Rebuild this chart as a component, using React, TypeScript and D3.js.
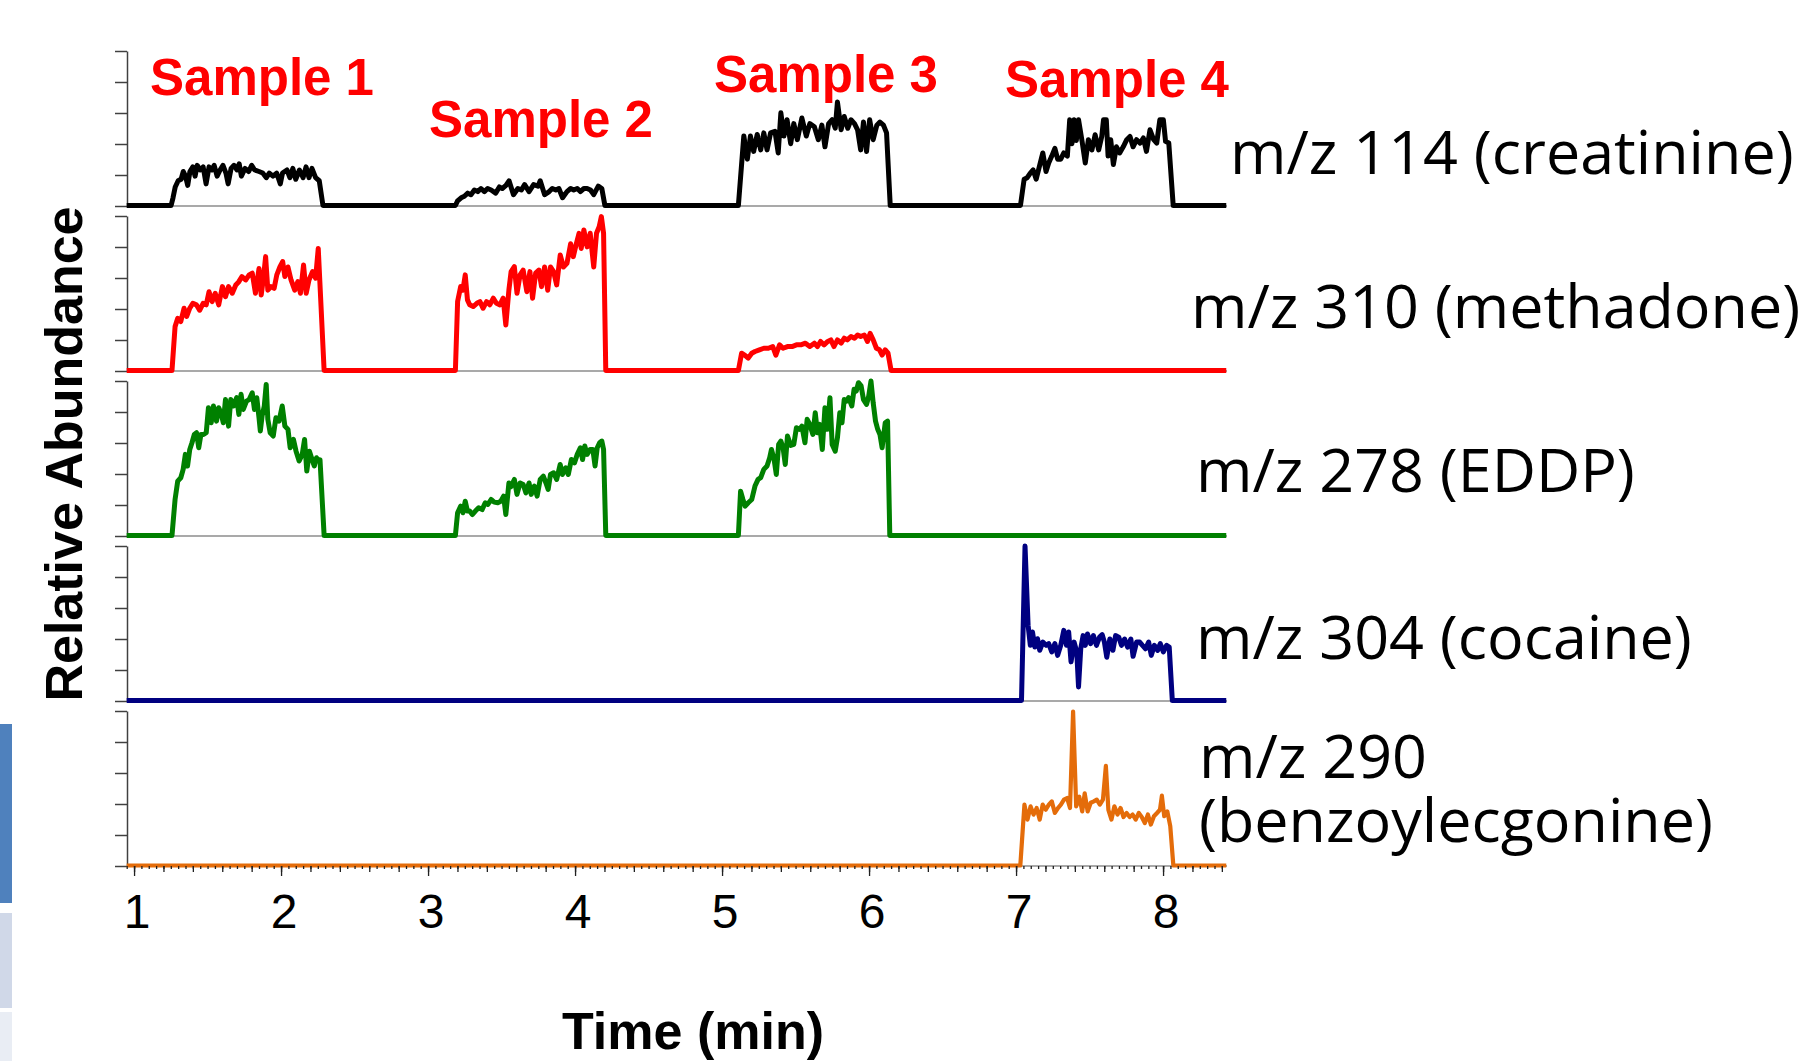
import React, { useEffect, useRef } from "react";
import * as d3 from "d3";

type Pt = [number, number];

// time (min), relative abundance (%)
const creatinine: Pt[] = [
  [0.95, 0], [1.252, 0], [1.265, 5], [1.28, 12], [1.3, 16], [1.32, 17], [1.335, 22], [1.35, 19], [1.365, 13],
  [1.38, 22], [1.4, 25], [1.415, 19], [1.43, 26], [1.45, 23], [1.47, 25], [1.49, 14], [1.51, 25], [1.53, 23],
  [1.545, 26], [1.565, 19], [1.585, 23], [1.605, 26], [1.625, 21], [1.64, 14], [1.66, 24], [1.68, 26], [1.7, 23],
  [1.715, 27], [1.73, 19], [1.755, 24], [1.78, 22], [1.8, 26], [1.82, 23], [1.85, 22], [1.875, 21], [1.9, 18],
  [1.92, 21], [1.945, 19], [1.97, 21], [1.995, 14], [2.01, 21], [2.04, 23], [2.06, 18], [2.08, 24], [2.1, 17],
  [2.125, 23], [2.15, 18], [2.17, 25], [2.19, 18], [2.21, 24], [2.235, 18], [2.26, 16], [2.285, 0],
  [3.186, 0], [3.201, 3], [3.225, 5], [3.247, 6], [3.27, 8], [3.292, 7], [3.315, 10], [3.338, 9], [3.36, 11],
  [3.383, 9], [3.405, 11], [3.429, 10], [3.46, 8], [3.485, 12], [3.505, 11], [3.53, 13], [3.551, 16], [3.581, 7],
  [3.611, 11], [3.635, 10], [3.657, 13.5], [3.687, 9], [3.718, 13.5], [3.748, 12.5], [3.763, 16], [3.793, 7],
  [3.824, 9], [3.845, 11], [3.869, 10], [3.89, 11], [3.915, 5], [3.945, 9], [3.97, 11], [3.991, 10], [4.015, 11],
  [4.036, 9], [4.06, 11], [4.082, 11], [4.105, 10], [4.127, 7], [4.158, 12.5], [4.182, 11], [4.203, 0],
  [5.111, 0], [5.148, 45], [5.172, 30], [5.193, 45], [5.215, 35], [5.239, 46], [5.263, 36], [5.284, 47],
  [5.306, 36], [5.33, 47], [5.36, 48], [5.382, 34], [5.4, 60], [5.421, 45], [5.442, 55.5], [5.467, 40],
  [5.488, 53], [5.512, 42.6], [5.543, 56.6], [5.573, 45], [5.597, 53], [5.628, 51], [5.655, 42.6], [5.679, 52],
  [5.7, 38], [5.725, 53], [5.749, 55.5], [5.77, 50], [5.785, 67], [5.81, 49], [5.831, 57.6], [5.855, 50],
  [5.877, 55.5], [5.901, 53], [5.922, 49], [5.943, 36], [5.962, 54], [5.983, 35], [6.004, 55.5], [6.028, 42.6],
  [6.053, 52], [6.074, 54], [6.098, 52], [6.119, 47], [6.144, 0],
  [7.03, 0], [7.055, 17], [7.076, 18], [7.097, 21], [7.116, 23], [7.137, 17], [7.158, 25], [7.182, 34],
  [7.204, 22], [7.222, 27.5], [7.243, 32], [7.264, 37], [7.283, 30], [7.304, 30], [7.325, 34], [7.349, 32],
  [7.365, 55.5], [7.38, 40], [7.395, 55.5], [7.41, 42], [7.425, 55.5], [7.45, 41], [7.471, 27.5], [7.492, 42.6],
  [7.516, 36], [7.538, 45.8], [7.562, 36], [7.583, 44.7], [7.595, 55.5], [7.614, 55.5], [7.626, 32], [7.644, 42.6],
  [7.662, 26.5], [7.683, 38], [7.705, 34], [7.729, 38], [7.753, 42.6], [7.775, 44.7], [7.796, 38], [7.82, 42.6],
  [7.844, 40.4], [7.866, 43.7], [7.887, 35], [7.911, 49], [7.936, 42.6], [7.957, 40.4], [7.978, 55.5],
  [8.002, 55.5], [8.017, 41.5], [8.039, 40.4], [8.069, 0], [8.43, 0],
];

const methadone: Pt[] = [
  [0.95, 0], [1.258, 0], [1.279, 28.4], [1.297, 33.8], [1.318, 31.7], [1.34, 40.3], [1.358, 35], [1.379, 40.3],
  [1.4, 43.5], [1.424, 42.5], [1.446, 39], [1.47, 43.5], [1.491, 42.5], [1.51, 51], [1.531, 44.6], [1.552, 50],
  [1.576, 42.5], [1.601, 54.3], [1.622, 47.8], [1.643, 54.3], [1.668, 50], [1.692, 55.4], [1.713, 57.5],
  [1.734, 60.8], [1.759, 58.6], [1.783, 61.9], [1.804, 63], [1.826, 50], [1.85, 66], [1.865, 48.9], [1.88, 59.7],
  [1.895, 73.7], [1.91, 52], [1.932, 54.3], [1.953, 53.2], [1.971, 61.9], [1.992, 67], [2.011, 70.5],
  [2.026, 60.8], [2.047, 67], [2.068, 58.6], [2.093, 52], [2.114, 57.5], [2.132, 50], [2.153, 68.3], [2.171, 50],
  [2.19, 58.6], [2.214, 64], [2.235, 59.7], [2.253, 79], [2.293, 0],
  [3.186, 0], [3.201, 44.6], [3.222, 54.3], [3.237, 52], [3.253, 61.9], [3.268, 45.7], [3.283, 42.5],
  [3.307, 41.4], [3.332, 43.5], [3.353, 44.6], [3.374, 40.3], [3.398, 44.6], [3.42, 42.5], [3.444, 46.8],
  [3.465, 43.5], [3.489, 42.5], [3.511, 46.8], [3.529, 29.5], [3.55, 52.2], [3.565, 64], [3.587, 67.2],
  [3.605, 50], [3.626, 61.9], [3.647, 65], [3.672, 51], [3.693, 64], [3.711, 46.8], [3.732, 63], [3.754, 65],
  [3.772, 54.3], [3.793, 67], [3.814, 52], [3.833, 67], [3.854, 64], [3.875, 55.4], [3.899, 74.8], [3.921, 67],
  [3.945, 69.4], [3.97, 82], [3.988, 73.7], [4.006, 81], [4.027, 88.8], [4.042, 79], [4.06, 91], [4.082, 80],
  [4.103, 88.8], [4.127, 67], [4.146, 88.8], [4.164, 93], [4.179, 99.6], [4.194, 88.8], [4.209, 0],
  [5.111, 0], [5.133, 11.2], [5.154, 10], [5.178, 8], [5.202, 11.2], [5.224, 12.3], [5.254, 13.4], [5.284, 14.4],
  [5.315, 14.4], [5.345, 15.5], [5.366, 10], [5.391, 16.6], [5.415, 14.4], [5.445, 15.5], [5.476, 15.5],
  [5.506, 16.6], [5.536, 16.6], [5.567, 17.7], [5.597, 15.5], [5.628, 17.7], [5.649, 15.5], [5.67, 18.8],
  [5.694, 16.6], [5.719, 18.8], [5.74, 19.8], [5.761, 15.5], [5.785, 19.8], [5.81, 17.7], [5.831, 20.9],
  [5.852, 19.8], [5.877, 22], [5.901, 20.9], [5.922, 23], [5.943, 22], [5.968, 23], [5.989, 18.8], [6.007, 24],
  [6.028, 19.8], [6.05, 14.4], [6.071, 13.4], [6.089, 10], [6.11, 13.4], [6.129, 11.2], [6.15, 0], [8.43, 0],
];

const eddp: Pt[] = [
  [0.95, 0], [1.258, 0], [1.279, 23.3], [1.297, 35.2], [1.318, 37.4], [1.334, 42.8], [1.349, 52.5], [1.364, 45],
  [1.379, 55.7], [1.394, 60], [1.41, 65.4], [1.425, 66.5], [1.44, 56.8], [1.455, 65.4], [1.473, 65.4],
  [1.491, 66.5], [1.506, 82.7], [1.525, 73], [1.54, 83.8], [1.561, 74], [1.576, 82.7], [1.591, 79.5], [1.607, 73],
  [1.622, 88], [1.643, 70.8], [1.658, 88], [1.677, 83.8], [1.698, 89.2], [1.713, 78.4], [1.728, 91.4],
  [1.743, 81.6], [1.765, 87], [1.783, 88], [1.804, 92.4], [1.819, 81.6], [1.835, 89.2], [1.85, 76.2],
  [1.859, 67.6], [1.871, 77.3], [1.886, 83.8], [1.899, 97.8], [1.91, 75.2], [1.926, 66.5], [1.947, 64.4],
  [1.965, 76.2], [1.986, 74], [2.008, 83.8], [2.026, 70.8], [2.047, 68.7], [2.062, 56.8], [2.084, 62.2],
  [2.102, 54.6], [2.123, 48.2], [2.144, 52.5], [2.16, 62.2], [2.175, 41.7], [2.193, 54.6], [2.211, 49.2],
  [2.226, 45], [2.241, 50.3], [2.259, 48.2], [2.265, 49], [2.293, 0],
  [3.186, 0], [3.201, 14.7], [3.222, 19], [3.237, 14.7], [3.253, 22.2], [3.268, 15.8], [3.283, 15.8],
  [3.301, 13.6], [3.322, 15.8], [3.344, 17.9], [3.368, 16.8], [3.389, 21.2], [3.407, 20.1], [3.429, 23.3],
  [3.45, 21.6], [3.474, 21.2], [3.495, 22.2], [3.514, 25.5], [3.529, 13.6], [3.55, 34], [3.565, 31.7],
  [3.587, 36.3], [3.605, 26.6], [3.626, 34], [3.647, 33], [3.666, 27.6], [3.687, 34], [3.702, 26.6], [3.723, 32],
  [3.742, 25.5], [3.763, 36.3], [3.784, 38.4], [3.802, 34], [3.817, 29.8], [3.833, 39.5], [3.854, 40.6],
  [3.875, 36.3], [3.899, 46], [3.914, 39.5], [3.936, 43.8], [3.954, 39.5], [3.975, 49.2], [3.996, 47],
  [4.015, 52.5], [4.036, 56.8], [4.051, 49.2], [4.066, 57.9], [4.082, 52.5], [4.103, 55.7], [4.121, 55.7],
  [4.136, 45], [4.151, 56.8], [4.167, 60], [4.182, 61.1], [4.194, 55.7], [4.209, 0],
  [5.111, 0], [5.126, 28.7], [5.142, 23.3], [5.157, 19], [5.178, 21.2], [5.202, 23.3], [5.224, 32],
  [5.245, 36.3], [5.263, 37.4], [5.284, 42.8], [5.306, 45], [5.324, 50.3], [5.336, 55.7], [5.354, 49.2],
  [5.369, 39.5], [5.385, 59], [5.4, 61.1], [5.415, 56.8], [5.43, 46], [5.445, 64.4], [5.467, 58.3], [5.488, 59],
  [5.506, 69.8], [5.527, 68.7], [5.543, 70.8], [5.564, 60], [5.579, 75.2], [5.597, 71.9], [5.618, 65.4],
  [5.634, 79.5], [5.649, 66.5], [5.664, 71.9], [5.682, 55.7], [5.7, 82.7], [5.716, 68.7], [5.734, 89.2],
  [5.749, 59], [5.77, 54.6], [5.785, 63.3], [5.801, 79.5], [5.816, 73], [5.831, 88], [5.846, 87], [5.861, 89.2],
  [5.883, 83.8], [5.898, 94.6], [5.913, 93.5], [5.928, 98.9], [5.946, 96.8], [5.962, 88], [5.983, 84.9],
  [5.998, 90.3], [6.013, 100], [6.028, 86], [6.044, 74], [6.059, 68.7], [6.074, 65.4], [6.089, 56.8],
  [6.11, 73], [6.126, 74], [6.141, 0], [8.43, 0],
];

const cocaine: Pt[] = [
  [0.95, 0], [7.037, 0], [7.061, 100], [7.082, 48.6], [7.097, 35.7], [7.112, 44.3], [7.128, 34.6], [7.146, 40],
  [7.161, 32.5], [7.182, 37.8], [7.204, 35.7], [7.222, 36.8], [7.243, 31.4], [7.264, 36.8], [7.283, 29.2],
  [7.304, 35.7], [7.325, 45.4], [7.343, 35.7], [7.358, 44.3], [7.374, 25], [7.395, 37.8], [7.413, 31.4],
  [7.425, 8.8], [7.44, 33.5], [7.456, 42], [7.471, 35.7], [7.486, 43], [7.507, 36.8], [7.526, 42], [7.547, 35.7],
  [7.568, 41], [7.586, 42.6], [7.601, 37.8], [7.617, 28], [7.638, 39.8], [7.659, 32.5], [7.677, 42], [7.699, 41],
  [7.717, 35.7], [7.738, 39.8], [7.759, 34.6], [7.781, 39.8], [7.796, 28.6], [7.82, 37.8], [7.841, 37.8],
  [7.86, 35.7], [7.881, 33.5], [7.902, 37.8], [7.92, 29.2], [7.941, 35.7], [7.963, 32.5], [7.981, 36.8],
  [8.002, 31.4], [8.024, 35.7], [8.042, 34.6], [8.063, 0], [8.43, 0],
];

const benzoylecgonine: Pt[] = [
  [0.95, 0], [7.029, 0], [7.057, 39.4], [7.078, 29.7], [7.099, 38.3], [7.119, 32.9], [7.14, 37.2], [7.161, 29.7],
  [7.181, 39.4], [7.202, 36.1], [7.223, 39.4], [7.243, 41.5], [7.264, 34], [7.285, 37.2], [7.305, 39.4],
  [7.326, 42.6], [7.347, 43.7], [7.367, 37.2], [7.388, 99.6], [7.409, 38.3], [7.43, 44.5], [7.45, 35],
  [7.467, 46.7], [7.487, 35], [7.508, 40.6], [7.529, 41.5], [7.549, 42.6], [7.57, 39.4], [7.591, 42.6],
  [7.611, 64.5], [7.628, 36], [7.649, 29.7], [7.669, 38.3], [7.69, 33], [7.711, 37.2], [7.731, 31.4], [7.752, 34],
  [7.773, 31.4], [7.793, 33], [7.814, 29.7], [7.835, 34], [7.855, 31.4], [7.876, 27.5], [7.897, 33], [7.917, 26.5],
  [7.938, 31.9], [7.959, 34], [7.979, 36.1], [7.992, 45.2], [8.008, 31.9], [8.029, 35], [8.049, 25.5], [8.07, 0],
  [8.43, 0],
];

const traceLabels = [
  ["m/z 114 (creatinine)"],
  ["m/z 310 (methadone)"],
  ["m/z 278 (EDDP)"],
  ["m/z 304 (cocaine)"],
  ["m/z 290", "(benzoylecgonine)"],
];
const traceColors = ["#000000", "#ff0000", "#008000", "#000080", "#e46c0a"];
const sampleLabels = ["Sample 1", "Sample 2", "Sample 3", "Sample 4"];
const xTicks = [1, 2, 3, 4, 5, 6, 7, 8];
const yTicks = [0, 20, 40, 60, 80, 100];

const W = 1803;
const H = 1061;
const panelTop0 = 51;
const panelStep = 165;
const panelH = 155;
// where the text pieces sit
const samplePos = [[150, 95], [429, 137], [714, 92], [1005, 97]];
const labelPos = [[1230, 174], [1191, 328], [1196, 492], [1196, 659], [1199, 778]];

export default function App() {
  const ref = useRef<SVGSVGElement>(null);

  useEffect(() => {
    const svg = d3.select(ref.current);
    svg.selectAll("*").remove();

    const series = [creatinine, methadone, eddp, cocaine, benzoylecgonine];
    const x = d3.scaleLinear().domain([0.952, 8.435]).range([127, 1227]);

    // leftover slide decoration at the left edge
    const deco = [[724, 903, "#4f81bd"], [913, 1008, "#d0d8e8"], [1012, 1061, "#e9edf4"]] as const;
    deco.forEach(([a, b, c]) => {
      svg.append("rect").attr("x", 0).attr("y", a).attr("width", 12).attr("height", b - a).attr("fill", c);
    });

    series.forEach((data, i) => {
      const top = panelTop0 + i * panelStep;
      const bottom = top + panelH;
      const y = d3.scaleLinear().domain([0, 100]).range([bottom - 0.5, top]);

      svg.append("line")
        .attr("x1", 127).attr("x2", 1227)
        .attr("y1", bottom).attr("y2", bottom)
        .attr("stroke", "#8c8c8c").attr("stroke-width", 1.5);

      const yAxis = svg.append("g")
        .attr("transform", "translate(127,0)")
        .call(d3.axisLeft(d3.scaleLinear().domain([0, 100]).range([bottom, top]))
          .tickValues(yTicks).tickSize(12).tickSizeOuter(0).tickFormat(() => ""));
      yAxis.selectAll("path, line").attr("stroke", "#404040").attr("stroke-width", 1.5);

      const line = d3.line<Pt>()
        .x(d => x(d[0]))
        .y(d => y(d[1]));

      svg.append("path")
        .datum(data)
        .attr("d", line)
        .attr("fill", "none")
        .attr("stroke", traceColors[i])
        .attr("stroke-width", i === 4 ? 4.2 : 5)
        .attr("stroke-linejoin", "round");

      traceLabels[i].forEach((s, k) => {
        svg.append("text")
          .attr("x", labelPos[i][0])
          .attr("y", labelPos[i][1] + k * 64)
          .attr("font-family", "'Open Sans', sans-serif")
          .attr("font-size", 61)
          .attr("fill", "#000")
          .text(s);
      });
    });

    // time axis at bottom of last panel
    const axisY = panelTop0 + 4 * panelStep + panelH;
    const small = d3.range(19, 169).map(k => k / 20);
    const medium = d3.range(5, 43).map(k => k / 5);
    const tiers: [number[], number][] = [[small, 3], [medium, 6], [xTicks, 10]];
    tiers.forEach(([vals, len]) => {
      const g = svg.append("g")
        .attr("transform", `translate(0,${axisY})`)
        .call(d3.axisBottom(x).tickValues(vals).tickSize(len).tickSizeOuter(0).tickFormat(() => ""));
      g.select(".domain").remove();
      g.selectAll("line").attr("stroke", "#202020").attr("stroke-width", 1.3);
    });

    svg.append("g")
      .selectAll("text")
      .data(xTicks)
      .join("text")
      .attr("x", d => x(d) + 3)
      .attr("y", 928)
      .attr("text-anchor", "middle")
      .attr("font-family", "'Liberation Sans', Arial, sans-serif")
      .attr("font-size", 48)
      .text(d => d);

    svg.append("g")
      .selectAll("text")
      .data(sampleLabels)
      .join("text")
      .attr("x", (d, i) => samplePos[i][0])
      .attr("y", (d, i) => samplePos[i][1])
      .attr("font-family", "'Liberation Sans', Arial, sans-serif")
      .attr("font-weight", "bold")
      .attr("font-size", 51)
      .attr("fill", "#ff0000")
      .text(d => d);

    svg.append("text")
      .attr("transform", "translate(82,454) rotate(-90)")
      .attr("text-anchor", "middle")
      .attr("font-family", "'Liberation Sans', Arial, sans-serif")
      .attr("font-weight", "bold")
      .attr("font-size", 52)
      .text("Relative Abundance");

    svg.append("text")
      .attr("x", 693)
      .attr("y", 1049)
      .attr("text-anchor", "middle")
      .attr("font-family", "'Liberation Sans', Arial, sans-serif")
      .attr("font-weight", "bold")
      .attr("font-size", 52)
      .text("Time (min)");
  }, []);

  return (
    <svg
      ref={ref}
      width={W}
      height={H}
      style={{ position: "absolute", left: 0, top: 0, background: "#fff", display: "block" }}
    />
  );
}
